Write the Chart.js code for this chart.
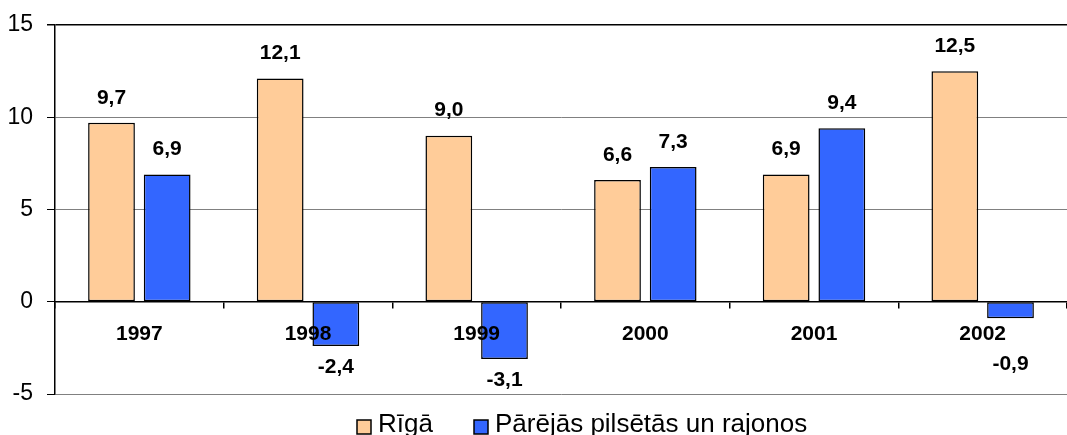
<!doctype html>
<html lang="lv">
<head>
  <meta charset="UTF-8">
  <title>Rīgā / Pārējās pilsētās un rajonos</title>
  <script src="https://cdn.jsdelivr.net/npm/chart.js"></script>
  <style>
    html, body {
      margin: 0;
      padding: 0;
      background: #ffffff;
    }
    #wrap {
      width: 1067px;
      height: 435px;
    }
  </style>
</head>
<body>
  <div id="wrap"><canvas id="chart"></canvas></div>
<script>
  // data
  const years = ['1997', '1998', '1999', '2000', '2001', '2002'];
  const riga = [9.7, 12.1, 9.0, 6.6, 6.9, 12.5];
  const other = [6.9, -2.4, -3.1, 7.3, 9.4, -0.9];
  const seriesNames = ['Rīgā', 'Pārējās pilsētās un rajonos'];
  const yTicks = [-5, 0, 5, 10, 15];

  const FONT = "'Liberation Sans', Arial, sans-serif";

  // value labels above / below every bar
  const valueLabels = {
    id: 'valueLabels',
    afterDraw(chart) {
      const ctx = chart.ctx;
      const zeroY = chart.scales.y.getPixelForValue(0);
      ctx.save();
      ctx.font = 'bold 21px ' + FONT;
      ctx.fillStyle = '#000';
      ctx.textAlign = 'center';
      ctx.textBaseline = 'middle';
      chart.data.datasets.forEach((ds, i) => {
        const meta = chart.getDatasetMeta(i);
        meta.data.forEach((bar, j) => {
          const v = ds.data[j];
          const txt = v.toFixed(1).replace('.', ',');
          let y;
          if (v >= 0) {
            y = bar.y - 25;
          } else {
            y = Math.max(bar.y + 21, zeroY + 62);
          }
          ctx.fillText(txt, bar.x, y);
        });
      });
      ctx.restore();
    }
  };

  // legend drawn under the plot
  const bottomLegend = {
    id: 'bottomLegend',
    afterDraw(chart) {
      const ctx = chart.ctx;
      const starts = [357, 474];
      ctx.save();
      ctx.font = '26px ' + FONT;
      ctx.textBaseline = 'alphabetic';
      ctx.textAlign = 'left';
      chart.data.datasets.forEach((ds, i) => {
        const x = starts[i];
        ctx.fillStyle = ds.backgroundColor;
        ctx.fillRect(x, 420, 14, 14);
        ctx.strokeStyle = '#000';
        ctx.lineWidth = 1.5;
        ctx.strokeRect(x, 420, 14, 14);
        ctx.fillStyle = '#000';
        ctx.fillText(ds.label, x + 21, 432);
      });
      ctx.restore();
    }
  };

  const ctx = document.getElementById('chart').getContext('2d');
  const chart = new Chart(ctx, {
    type: 'bar',
    data: {
      labels: years,
      datasets: [{
        label: seriesNames[0],
        data: riga,
        backgroundColor: '#FFCC99',
        borderColor: '#000000',
        borderWidth: 1.5,
        borderSkipped: false
      }, {
        label: seriesNames[1],
        data: other,
        backgroundColor: '#3366FF',
        borderColor: '#000000',
        borderWidth: 1.5,
        borderSkipped: false
      }]
    },
    options: {
      responsive: true,
      maintainAspectRatio: false,
      animation: false,
      datasets: {
        bar: {
          categoryPercentage: 0.66,
          barPercentage: 0.84
        }
      },
      layout: {
        padding: { left: 8, right: 0, top: 25, bottom: 41 }
      },
      plugins: {
        legend: { display: false },
        tooltip: { enabled: false }
      },
      scales: {
        x: {
          position: { y: 0 },
          afterFit(scale) {
            scale.paddingLeft = 0;
            scale.paddingRight = 0;
          },
          grid: {
            drawOnChartArea: false,
            drawTicks: true,
            tickLength: 6,
            color: '#000',
            lineWidth: 1.5,
            offset: true,
            z: 1
          },
          border: { display: true, color: '#000', width: 1.5, z: 1 },
          ticks: {
            color: '#000',
            padding: 14,
            z: 1,
            font: { family: FONT, size: 21, weight: 'bold' }
          }
        },
        y: {
          min: yTicks[0],
          max: yTicks[yTicks.length - 1],
          afterBuildTicks(scale) {
            scale.ticks = yTicks.map(v => ({ value: v }));
          },
          afterFit(scale) {
            scale.width = 47;
            scale.paddingTop = 0;
            scale.paddingBottom = 0;
          },
          grid: {
            color: c => (c.tick && c.tick.value === 15 ? '#000' : '#808080'),
            lineWidth: c => (c.tick && c.tick.value === 15 ? 1.5 : 1),
            tickColor: '#000',
            tickLength: 8
          },
          border: { display: true, color: '#000', width: 1.5 },
          ticks: {
            color: '#000',
            padding: 14,
            font: { family: FONT, size: 23 }
          }
        }
      }
    },
    plugins: [valueLabels, bottomLegend]
  });
</script>
</body>
</html>
